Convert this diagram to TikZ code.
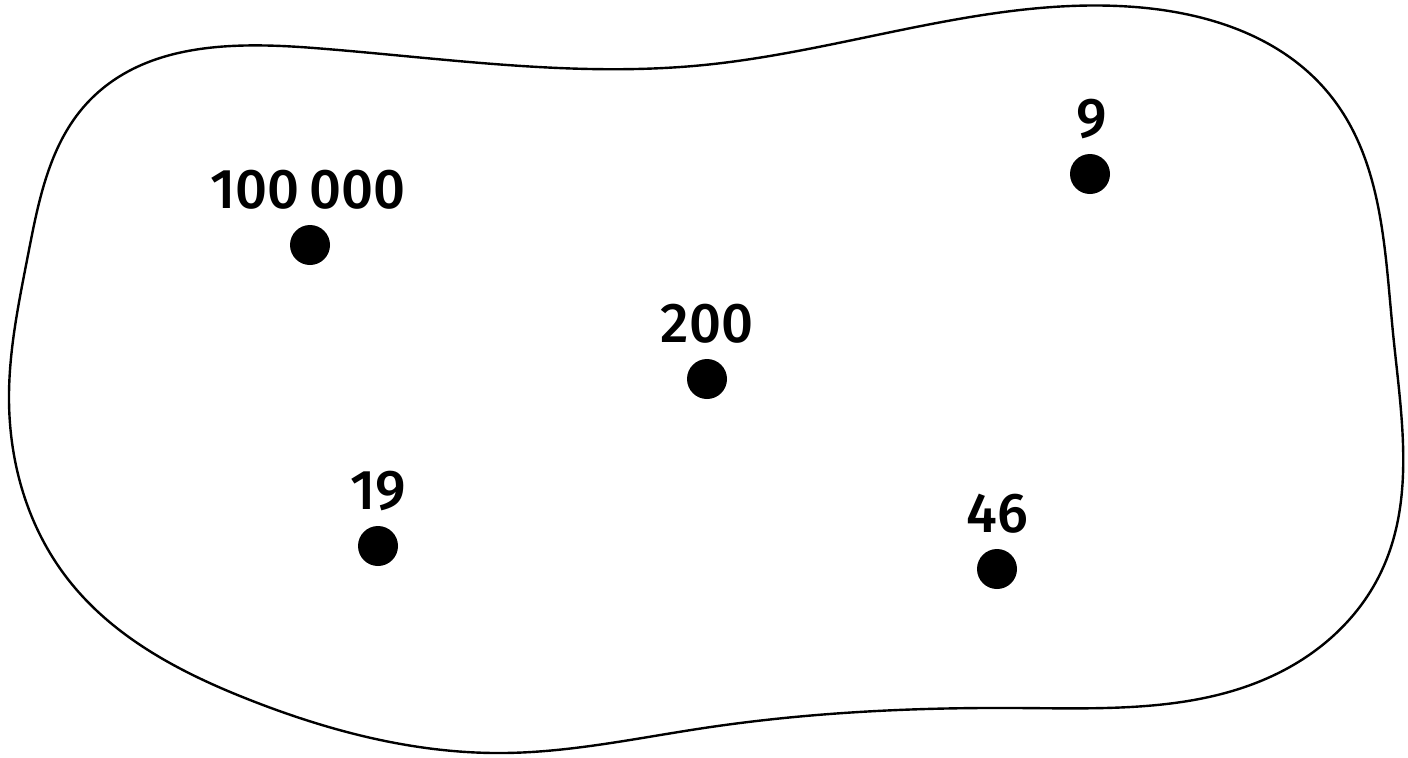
\documentclass[tikz,border=0pt]{standalone}
\usepackage{fontspec}
\setmainfont{Fira Sans}[UprightFont=* Medium]
\usetikzlibrary{hobby}
\begin{document}
\begin{tikzpicture}[x=0.5pt,y=-0.5pt,
  dot/.style={circle,fill=black,inner sep=0pt,minimum size=20pt},
  num/.style={anchor=base,inner sep=0pt,font=\fontsize{28}{30}\selectfont}]
\useasboundingbox (0,0) rectangle (1408,757);
\draw[line width=1.2pt,line join=round,use Hobby shortcut,closed=true]
 (9,400) .. (28,255) .. (90,100) .. (314,48) .. (704,65) .. (1135,7)
 .. (1330,95) .. (1393,333) .. (1382,570) .. (1288,668) .. (1018,708)
 .. (704,728) .. (503,753) .. (250,700) .. (67,578);
\node[dot] (d1) at (310,245) {};
\node[dot] (d2) at (1090,174) {};
\node[dot] (d3) at (707,379) {};
\node[dot] (d4) at (378,546) {};
\node[dot] (d5) at (997,569) {};
\node[num] (l1) at (308,208) {100\,000};
\node[num] (l2) at (1092,137) {9};
\node[num] (l3) at (707,342) {200};
\node[num] (l4) at (378,509) {19};
\node[num] (l5) at (997,532) {46};
\end{tikzpicture}
\end{document}
